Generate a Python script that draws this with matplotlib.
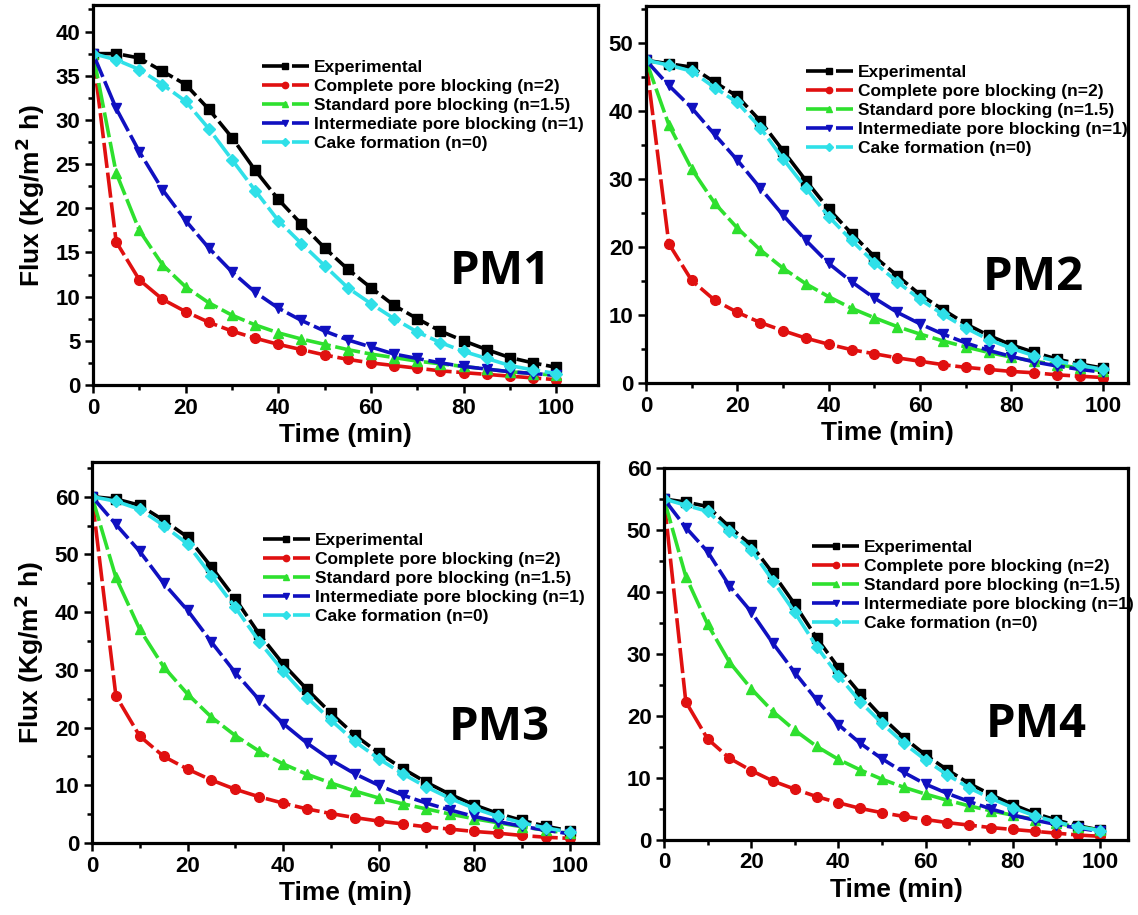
import matplotlib
matplotlib.use("Agg")
import matplotlib.pyplot as plt
from matplotlib.ticker import MultipleLocator, AutoMinorLocator

plt.rcParams['font.family'] = ['Liberation Sans', 'DejaVu Sans']
plt.rcParams['font.weight'] = 'bold'
plt.rcParams['mathtext.default'] = 'bf'

time = list(range(0, 101, 5))

series_names = ["Experimental", "Complete pore blocking (n=2)", "Standard pore blocking (n=1.5)",
                "Intermediate pore blocking (n=1)", "Cake formation (n=0)"]
series_colors = ["#000000", "#e01010", "#2ee02e", "#1010c0", "#2fe0e8"]
series_markers = ["s", "o", "^", "v", "D"]

# PM1
pm1_exp = [37.5, 37.5, 37.0, 35.5, 34.0, 31.2, 28.0, 24.3, 21.0, 18.2, 15.5, 13.1, 11.0, 9.0, 7.5, 6.1, 5.0, 4.0, 3.1, 2.5, 2.0]
pm1_complete = [37.5, 16.2, 11.9, 9.7, 8.3, 7.1, 6.1, 5.3, 4.6, 4.0, 3.4, 2.9, 2.5, 2.2, 1.9, 1.6, 1.4, 1.2, 1.0, 0.8, 0.6]
pm1_standard = [37.5, 24.0, 17.5, 13.6, 11.1, 9.3, 7.9, 6.8, 5.9, 5.2, 4.6, 4.0, 3.5, 3.1, 2.7, 2.4, 2.1, 1.8, 1.5, 1.3, 1.1]
pm1_inter = [37.5, 31.3, 26.4, 22.1, 18.6, 15.5, 12.8, 10.5, 8.7, 7.3, 6.1, 5.1, 4.3, 3.5, 3.0, 2.5, 2.1, 1.8, 1.5, 1.3, 1.1]
pm1_cake = [37.5, 36.8, 35.7, 34.0, 32.1, 29.0, 25.5, 22.0, 18.6, 16.0, 13.5, 11.0, 9.2, 7.5, 6.0, 4.8, 3.8, 3.0, 2.2, 1.7, 1.3]

# PM2
pm2_exp = [47.5, 47.0, 46.5, 44.3, 42.2, 38.6, 34.2, 29.8, 25.6, 22.0, 18.6, 15.8, 13.0, 10.8, 8.7, 7.0, 5.6, 4.5, 3.5, 2.8, 2.2]
pm2_complete = [47.5, 20.5, 15.1, 12.2, 10.4, 8.9, 7.7, 6.6, 5.7, 4.9, 4.3, 3.7, 3.2, 2.7, 2.3, 2.0, 1.7, 1.5, 1.2, 1.0, 0.8]
pm2_standard = [47.5, 38.0, 31.5, 26.5, 22.8, 19.6, 16.9, 14.6, 12.7, 11.0, 9.6, 8.3, 7.2, 6.2, 5.3, 4.5, 3.8, 3.2, 2.7, 2.2, 1.8]
pm2_inter = [47.5, 43.8, 40.5, 36.6, 32.8, 28.7, 24.7, 21.0, 17.6, 14.9, 12.5, 10.4, 8.7, 7.2, 5.9, 4.8, 3.9, 3.1, 2.5, 2.0, 1.6]
pm2_cake = [47.5, 46.8, 45.9, 43.5, 41.3, 37.6, 33.0, 28.7, 24.5, 21.0, 17.7, 14.9, 12.3, 10.1, 8.1, 6.4, 5.1, 4.0, 3.2, 2.6, 2.0]

# PM3
pm3_exp = [60.0, 59.6, 58.5, 55.9, 53.0, 47.8, 42.3, 36.2, 31.0, 26.6, 22.5, 18.7, 15.6, 12.9, 10.5, 8.4, 6.6, 5.1, 3.9, 2.9, 2.1]
pm3_complete = [60.0, 25.5, 18.5, 15.0, 12.8, 10.9, 9.3, 8.0, 6.9, 5.9, 5.1, 4.4, 3.8, 3.3, 2.8, 2.4, 2.0, 1.7, 1.3, 1.0, 0.8]
pm3_standard = [60.0, 46.0, 37.0, 30.5, 25.8, 21.8, 18.6, 15.9, 13.7, 11.9, 10.4, 9.0, 7.8, 6.8, 5.9, 5.0, 4.2, 3.5, 2.8, 2.2, 1.7]
pm3_inter = [60.0, 55.2, 50.5, 45.0, 40.3, 34.8, 29.5, 24.8, 20.7, 17.3, 14.4, 12.0, 10.0, 8.3, 6.9, 5.7, 4.6, 3.7, 2.9, 2.2, 1.6]
pm3_cake = [60.0, 59.2, 57.8, 55.0, 51.8, 46.3, 40.8, 34.9, 29.8, 25.2, 21.3, 17.6, 14.6, 12.0, 9.7, 7.7, 6.0, 4.6, 3.5, 2.6, 1.9]

# PM4
pm4_exp = [55.0, 54.5, 53.8, 50.5, 47.6, 43.0, 38.0, 32.6, 27.8, 23.6, 19.8, 16.5, 13.7, 11.3, 9.1, 7.3, 5.7, 4.3, 3.2, 2.3, 1.6]
pm4_complete = [55.0, 22.3, 16.3, 13.2, 11.2, 9.5, 8.2, 7.0, 6.0, 5.1, 4.4, 3.8, 3.3, 2.8, 2.4, 2.0, 1.7, 1.4, 1.1, 0.8, 0.6]
pm4_standard = [55.0, 42.5, 34.8, 28.7, 24.4, 20.7, 17.7, 15.1, 13.0, 11.3, 9.8, 8.5, 7.4, 6.4, 5.5, 4.7, 4.0, 3.3, 2.7, 2.1, 1.6]
pm4_inter = [55.0, 50.4, 46.5, 41.0, 36.8, 31.7, 27.0, 22.6, 18.6, 15.6, 13.1, 10.9, 9.0, 7.5, 6.2, 5.0, 4.0, 3.2, 2.5, 1.9, 1.4]
pm4_cake = [55.0, 54.0, 53.0, 49.8, 46.8, 41.8, 36.7, 31.2, 26.5, 22.3, 18.8, 15.6, 12.9, 10.5, 8.4, 6.7, 5.2, 3.9, 2.9, 2.1, 1.5]

W, H = 1138, 915
fig = plt.figure(figsize=(W / 100, H / 100), dpi=100)

def px_axes(left, top, right, bottom):
    return fig.add_axes([left / W, 1 - bottom / H, (right - left) / W, (bottom - top) / H])

# legend anchor / panel label given in data coords
panels = [
    dict(name="PM1", box=(93, 5, 598, 385), xlim=109, ylim=43, ystep=5, ylabel=True,
         data=[pm1_exp, pm1_complete, pm1_standard, pm1_inter, pm1_cake],
         leg=(36.4, 31.6), lab=(88, 12.8)),
    dict(name="PM2", box=(646, 6, 1128, 383), xlim=105.5, ylim=55.5, ystep=10, ylabel=False,
         data=[pm2_exp, pm2_complete, pm2_standard, pm2_inter, pm2_cake],
         leg=(35.0, 40.1), lab=(84.8, 15.6)),
    dict(name="PM3", box=(92, 462, 598, 843), xlim=105.9, ylim=66, ystep=10, ylabel=True,
         data=[pm3_exp, pm3_complete, pm3_standard, pm3_inter, pm3_cake],
         leg=(35.8, 45.8), lab=(85.2, 20.0)),
    dict(name="PM4", box=(664, 468, 1128, 840), xlim=106.4, ylim=60, ystep=10, ylabel=False,
         data=[pm4_exp, pm4_complete, pm4_standard, pm4_inter, pm4_cake],
         leg=(34.0, 41.0), lab=(85.3, 18.6)),
]

for p in panels:
    ax = px_axes(*p["box"])
    for vals, name, col, mk in zip(p["data"], series_names, series_colors, series_markers):
        ms = 7 if mk != "D" else 6
        ax.plot(time, vals, color=col, marker=mk, markersize=ms, lw=2.6, label=name,
                dashes=(7, 1.3))
    ax.set_xlim(0, p["xlim"])
    ax.set_ylim(0, p["ylim"])
    ax.xaxis.set_major_locator(MultipleLocator(20))
    ax.xaxis.set_minor_locator(MultipleLocator(10))
    ax.yaxis.set_major_locator(MultipleLocator(p["ystep"]))
    ax.yaxis.set_minor_locator(AutoMinorLocator(2))
    for s in ax.spines.values():
        s.set_linewidth(2.3)
    ax.tick_params(which="both", direction="out", width=1.8, top=False, right=False,
                   labelsize=16, pad=3)
    ax.tick_params(which="major", length=6)
    ax.tick_params(which="minor", length=3.5)
    for t in ax.get_xticklabels() + ax.get_yticklabels():
        t.set_fontweight("bold")
    ax.set_xlabel("Time (min)", fontsize=19, fontweight="bold", labelpad=3)
    if p["ylabel"]:
        ax.set_ylabel("Flux (Kg/m$^{2}$ h)", fontsize=19, fontweight="bold", labelpad=6)
    ax.legend(loc="center left", bbox_to_anchor=p["leg"], bbox_transform=ax.transData,
              frameon=False, handlelength=2.7, handletextpad=0.3, labelspacing=0.22,
              markerscale=0.65, borderaxespad=0, borderpad=0,
              prop=dict(weight="bold", size=12.5))
    ax.text(p["lab"][0], p["lab"][1], p["name"], fontsize=34, fontweight="bold",
            family=["Open Sans", "DejaVu Sans"], ha="center", va="center")

fig.savefig("out.png", dpi=100)
